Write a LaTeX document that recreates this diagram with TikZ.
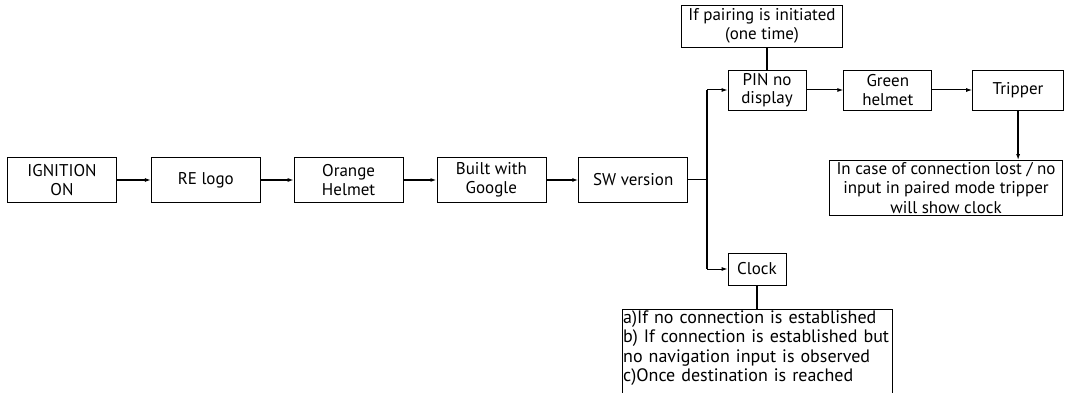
\documentclass[tikz,border=0pt]{standalone}
\usepackage{fontspec}
\setmainfont{PT Sans}
\usetikzlibrary{positioning,arrows.meta}

\begin{document}
\begin{tikzpicture}
[x=1pt, y=-1pt,
stepnode/.style={rectangle, draw, line width=0.8pt, minimum width=109pt, minimum height=45pt, inner sep=1pt, align=center, font=\fontsize{17}{18.5}\selectfont},
smallnode/.style={stepnode, minimum width=0pt, minimum height=40pt},
thickflow/.style={line width=2pt, -{Latex[length=6pt,width=4pt]}},
thinflow/.style={line width=1pt, -{Latex[length=6pt,width=4pt]}},
thickline/.style={line width=2.2pt},
]
\useasboundingbox (0,0) rectangle (1066,393);

% main row
\node[stepnode]	(ign) at (62,180) {IGNITION\\ON};
\node[stepnode]	(logo) [right=34pt of ign] {RE logo};
\node[stepnode]	(orange) [right=33pt of logo] {Orange\\Helmet};
\node[stepnode]	(google) [right=33pt of orange] {Built with\\Google};
\node[stepnode]	(sw) [right=32pt of google] {SW version};
\coordinate (split) at (707,180);

% upper branch
\node[smallnode, minimum width=78pt]	(pin) at (767,90) {PIN no\\display};
\node[smallnode, minimum width=88pt]	(green) [right=37pt of pin] {Green\\helmet};
\node[smallnode, minimum width=91pt]	(trip) [right=40pt of green] {Tripper};
\node[stepnode, minimum width=161pt, minimum height=42pt]	(pair) at (762,26) {If pairing is initiated\\(one time)};
\node[stepnode, minimum width=233pt, minimum height=55pt, font=\fontsize{17}{19.5}\selectfont]	(lost) at (946,188) {In case of connection lost / no\\input in paired mode tripper\\will show clock};

% lower branch
\node[stepnode, minimum width=58pt, minimum height=32pt]	(clock) at (757,269) {Clock};
\node[inner sep=1pt, text width=268pt, anchor=north west, align=left, font=\fontsize{18}{19.5}\selectfont]	(cases) at (622,309) {a)If no connection is established\\b) If connection is established but\\no navigation input is observed\\c)Once destination is reached};
\draw[line width=0.8pt] (cases.north west) rectangle ([yshift=-20pt]cases.south east);

\draw[thickflow] (ign) -- (logo);
\draw[thickflow] (logo) -- (orange);
\draw[thickflow] (orange) -- (google);
\draw[thickflow] (google) -- (sw);
\draw[line width=1pt] (sw) -- (split);
\draw[thickline] (split |- pin) -- (split |- clock);
\draw[thinflow] (split |- pin) -- (pin);
\draw[thinflow] (split |- clock) -- (clock);
\draw[thinflow] (pin) -- (green);
\draw[thinflow] (green) -- (trip);
\draw[thickline] (pin.north) -- (pin.north |- pair.south);
\draw[thickflow] (trip.south) -- (trip.south |- lost.north);
\draw[thickline] (clock.south) -- (clock.south |- cases.north);
\end{tikzpicture}
\end{document}
